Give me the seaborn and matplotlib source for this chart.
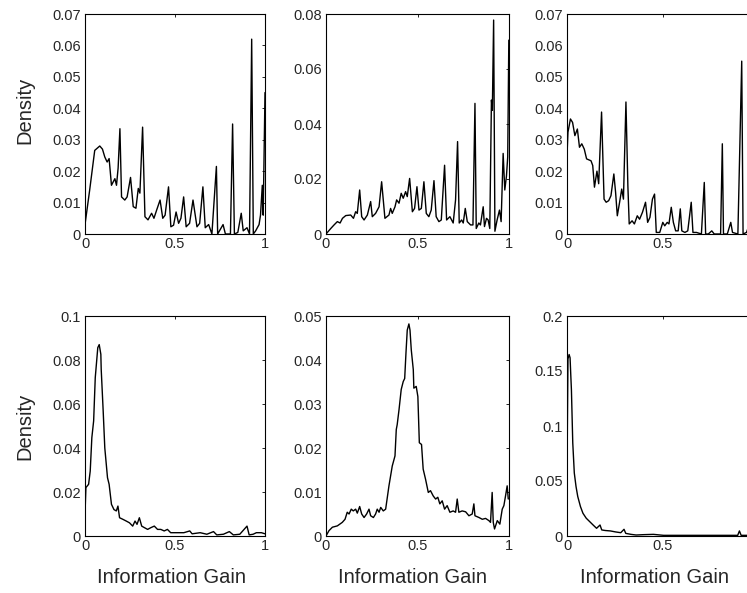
import matplotlib
matplotlib.use("Agg")
import matplotlib.pyplot as plt
import seaborn as sns

# ---- Density of information gain, six conditions (2 rows x 3 columns) ----
gain_a = [0.0, 0.026, 0.054, 0.082, 0.097, 0.11, 0.123, 0.134, 0.147, 0.166, 0.175, 0.184, 0.194,
          0.203, 0.221, 0.234, 0.253, 0.268, 0.283, 0.296, 0.305, 0.32, 0.333, 0.35, 0.37, 0.383,
          0.398, 0.417, 0.432, 0.445, 0.464, 0.477, 0.492, 0.506, 0.52, 0.533, 0.548, 0.562, 0.581,
          0.6, 0.622, 0.637, 0.655, 0.668, 0.687, 0.705, 0.73, 0.737, 0.767, 0.78, 0.808, 0.82,
          0.83, 0.849, 0.868, 0.879, 0.9, 0.914, 0.926, 0.935, 0.948, 0.967, 0.975, 0.985, 0.99, 1.0]
dens_a = [0.003, 0.014, 0.0266, 0.028, 0.027, 0.0245, 0.0229, 0.024, 0.0155, 0.0176, 0.0155, 0.021,
          0.0335, 0.0118, 0.0108, 0.0118, 0.018, 0.0087, 0.0082, 0.0145, 0.013, 0.034, 0.0055,
          0.0045, 0.0066, 0.005, 0.0076, 0.0108, 0.005, 0.006, 0.015, 0.0023, 0.0028, 0.007, 0.0034,
          0.005, 0.0118, 0.0023, 0.0034, 0.0108, 0.0023, 0.0034, 0.015, 0.002, 0.003, 0.0, 0.0215,
          0.0, 0.003, 0.0, 0.0, 0.035, 0.0, 0.0005, 0.0066, 0.001, 0.002, 0.0, 0.062, 0.0, 0.001,
          0.003, 0.006, 0.0155, 0.006, 0.045]

gain_b = [0.0, 0.026, 0.044, 0.062, 0.077, 0.09, 0.108, 0.135, 0.15, 0.162, 0.171, 0.184, 0.195,
          0.208, 0.226, 0.244, 0.253, 0.271, 0.29, 0.304, 0.322, 0.344, 0.353, 0.362, 0.377, 0.386,
          0.399, 0.411, 0.422, 0.435, 0.444, 0.457, 0.472, 0.484, 0.497, 0.508, 0.521, 0.535, 0.548,
          0.562, 0.575, 0.59, 0.602, 0.617, 0.63, 0.648, 0.659, 0.677, 0.695, 0.708, 0.719, 0.728,
          0.741, 0.75, 0.761, 0.772, 0.79, 0.803, 0.814, 0.821, 0.835, 0.844, 0.859, 0.866, 0.877,
          0.886, 0.895, 0.904, 0.909, 0.916, 0.923, 0.935, 0.948, 0.957, 0.968, 0.977, 0.986, 0.993,
          0.999]
dens_b = [0.0, 0.002, 0.0033, 0.0045, 0.004, 0.0057, 0.0067, 0.0069, 0.0057, 0.0081, 0.0075, 0.016,
          0.0063, 0.0051, 0.0069, 0.0118, 0.0063, 0.0075, 0.0099, 0.019, 0.0057, 0.0069, 0.0093,
          0.0075, 0.0099, 0.0124, 0.0112, 0.0148, 0.013, 0.0154, 0.0136, 0.0202, 0.0081, 0.0093,
          0.0172, 0.0087, 0.0093, 0.019, 0.0075, 0.0063, 0.0087, 0.0194, 0.0063, 0.0045, 0.0051,
          0.025, 0.0051, 0.0063, 0.004, 0.0124, 0.0336, 0.004, 0.0051, 0.004, 0.0093, 0.0045, 0.0033,
          0.0033, 0.0475, 0.002, 0.004, 0.0033, 0.0099, 0.0027, 0.0057, 0.0051, 0.002, 0.0487, 0.045,
          0.0778, 0.001, 0.0051, 0.0087, 0.0045, 0.0293, 0.016, 0.021, 0.028, 0.0705]

gain_c = [0.0, 0.005, 0.018, 0.029, 0.041, 0.054, 0.065, 0.077, 0.09, 0.102, 0.125, 0.134, 0.143,
          0.156, 0.165, 0.18, 0.193, 0.204, 0.217, 0.229, 0.244, 0.253, 0.262, 0.274, 0.285, 0.294,
          0.307, 0.317, 0.324, 0.339, 0.351, 0.366, 0.378, 0.393, 0.409, 0.42, 0.432, 0.445, 0.456,
          0.465, 0.483, 0.499, 0.509, 0.522, 0.531, 0.543, 0.554, 0.566, 0.579, 0.59, 0.598, 0.614,
          0.629, 0.647, 0.656, 0.674, 0.7, 0.715, 0.722, 0.736, 0.754, 0.767, 0.8, 0.809, 0.815,
          0.835, 0.853, 0.862, 0.89, 0.91, 0.917, 0.935, 0.953, 0.962, 0.98, 1.0]
dens_c = [0.025, 0.0324, 0.0366, 0.0355, 0.0313, 0.0334, 0.0276, 0.0287, 0.027, 0.0239, 0.0233,
          0.0218, 0.0149, 0.02, 0.016, 0.0388, 0.0111, 0.0101, 0.0106, 0.0122, 0.0191, 0.0133,
          0.0058, 0.0101, 0.0143, 0.0111, 0.042, 0.0154, 0.0032, 0.0042, 0.0032, 0.0058, 0.0047,
          0.0069, 0.0101, 0.0037, 0.0053, 0.0111, 0.0127, 0.0005, 0.0005, 0.0037, 0.0026, 0.0037,
          0.0032, 0.0085, 0.0037, 0.001, 0.001, 0.008, 0.001, 0.0005, 0.001, 0.0101, 0.0005, 0.0005,
          0.0, 0.0164, 0.0, 0.0, 0.001, 0.0, 0.0, 0.0287, 0.0, 0.0, 0.0037, 0.0005, 0.0, 0.055, 0.0,
          0.0005, 0.0037, 0.011, 0.004, 0.015]

gain_d = [0.0, 0.005, 0.02, 0.029, 0.038, 0.048, 0.057, 0.071, 0.079, 0.088, 0.09, 0.101, 0.11,
          0.125, 0.134, 0.147, 0.161, 0.174, 0.183, 0.192, 0.21, 0.229, 0.247, 0.265, 0.278, 0.289,
          0.302, 0.315, 0.33, 0.348, 0.366, 0.385, 0.403, 0.421, 0.44, 0.458, 0.476, 0.503, 0.531,
          0.549, 0.582, 0.595, 0.64, 0.677, 0.714, 0.732, 0.769, 0.802, 0.824, 0.86, 0.9, 0.912,
          0.934, 0.952, 0.98, 1.0]
dens_d = [0.01, 0.022, 0.0235, 0.0295, 0.0447, 0.0523, 0.072, 0.0856, 0.087, 0.0826, 0.0758, 0.0568,
          0.04, 0.0265, 0.0235, 0.0144, 0.012, 0.0114, 0.0136, 0.0083, 0.0076, 0.0068, 0.006, 0.0045,
          0.0068, 0.0053, 0.0083, 0.0045, 0.0038, 0.003, 0.0038, 0.0045, 0.003, 0.003, 0.0023,
          0.003, 0.0015, 0.0015, 0.0015, 0.0015, 0.0023, 0.001, 0.0015, 0.0008, 0.002, 0.0005,
          0.0008, 0.002, 0.0005, 0.0008, 0.0045, 0.0005, 0.0008, 0.0015, 0.0015, 0.001]

gain_e = [0.0, 0.016, 0.035, 0.062, 0.089, 0.104, 0.116, 0.126, 0.138, 0.149, 0.162, 0.171, 0.184,
          0.195, 0.208, 0.222, 0.235, 0.244, 0.259, 0.271, 0.28, 0.29, 0.299, 0.313, 0.326, 0.344,
          0.362, 0.377, 0.384, 0.389, 0.399, 0.411, 0.422, 0.43, 0.437, 0.444, 0.453, 0.459, 0.466,
          0.477, 0.48, 0.493, 0.502, 0.51, 0.522, 0.531, 0.544, 0.559, 0.571, 0.586, 0.599, 0.611,
          0.622, 0.635, 0.648, 0.662, 0.677, 0.695, 0.708, 0.717, 0.726, 0.744, 0.763, 0.781, 0.799,
          0.808, 0.814, 0.836, 0.854, 0.872, 0.89, 0.899, 0.908, 0.914, 0.921, 0.936, 0.95, 0.963,
          0.972, 0.981, 0.99, 0.996]
dens_e = [0.0, 0.0012, 0.002, 0.0023, 0.0031, 0.0038, 0.0054, 0.005, 0.0061, 0.0057, 0.0061, 0.0052,
          0.0067, 0.005, 0.0042, 0.005, 0.0061, 0.0046, 0.0042, 0.005, 0.0061, 0.0054, 0.0065,
          0.0057, 0.0061, 0.0114, 0.0159, 0.0182, 0.0242, 0.0253, 0.0287, 0.0333, 0.0351, 0.0358,
          0.0416, 0.0468, 0.0482, 0.0468, 0.0423, 0.0378, 0.0336, 0.034, 0.0317, 0.0212, 0.0208,
          0.0152, 0.0129, 0.0099, 0.0103, 0.0091, 0.0084, 0.0088, 0.0073, 0.008, 0.0061, 0.0069,
          0.0054, 0.0057, 0.0054, 0.0084, 0.0054, 0.0057, 0.0055, 0.0046, 0.005, 0.0073, 0.0046,
          0.0042, 0.0038, 0.004, 0.0035, 0.0031, 0.0099, 0.0031, 0.0016, 0.0035, 0.0027, 0.0061,
          0.0069, 0.0091, 0.0114, 0.0084]

gain_f = [0.0, 0.002, 0.005, 0.011, 0.016, 0.02, 0.023, 0.03, 0.038, 0.047, 0.056, 0.07, 0.083, 0.1,
          0.118, 0.136, 0.154, 0.172, 0.181, 0.199, 0.226, 0.253, 0.28, 0.297, 0.306, 0.333, 0.36,
          0.396, 0.45, 0.503, 0.593, 0.7, 0.79, 0.889, 0.898, 0.907, 0.97, 1.0]
dens_f = [0.048, 0.0998, 0.161, 0.165, 0.162, 0.145, 0.133, 0.0847, 0.0573, 0.045, 0.0359, 0.0268,
          0.0207, 0.0162, 0.0131, 0.01, 0.007, 0.01, 0.0055, 0.005, 0.0046, 0.0037, 0.003, 0.0061,
          0.0024, 0.0015, 0.0009, 0.0012, 0.0015, 0.0006, 0.0006, 0.0006, 0.0006, 0.0006, 0.0046,
          0.0006, 0.0006, 0.001]

panel_gain = [gain_a, gain_b, gain_c, gain_d, gain_e, gain_f]
panel_dens = [dens_a, dens_b, dens_c, dens_d, dens_e, dens_f]

y_max = [0.07, 0.08, 0.07, 0.1, 0.05, 0.2]
y_ticks = [
    [0, 0.01, 0.02, 0.03, 0.04, 0.05, 0.06, 0.07],
    [0, 0.02, 0.04, 0.06, 0.08],
    [0, 0.01, 0.02, 0.03, 0.04, 0.05, 0.06, 0.07],
    [0, 0.02, 0.04, 0.06, 0.08, 0.1],
    [0, 0.01, 0.02, 0.03, 0.04, 0.05],
    [0, 0.05, 0.1, 0.15, 0.2],
]
y_tick_labels = [
    ["0", "0.01", "0.02", "0.03", "0.04", "0.05", "0.06", "0.07"],
    ["0", "0.02", "0.04", "0.06", "0.08"],
    ["0", "0.01", "0.02", "0.03", "0.04", "0.05", "0.06", "0.07"],
    ["0", "0.02", "0.04", "0.06", "0.08", "0.1"],
    ["0", "0.01", "0.02", "0.03", "0.04", "0.05"],
    ["0", "0.05", "0.1", "0.15", "0.2"],
]
x_ticks = [0, 0.5, 1]
x_tick_labels = ["0", "0.5", "1"]
# right-hand column: its far end lies past the page edge, so its last label is left blank
x_tick_labels_edge = ["0", "0.5", ""]
x_label = "Information Gain"
y_label = "Density"

sns.set_style("white")
plt.rcParams["font.family"] = ["Liberation Sans", "DejaVu Sans"]

W, H = 747, 593
fig = plt.figure(figsize=(W / 100, H / 100), dpi=100)

# pixel boxes of the panels: (left, top, width, height); the right column runs past the page edge
col_left = [85, 326, 567]
col_width = [180, 183, 192]
col_xlabel_pos = [0.478, 0.475, 0.455]
row_top = [14, 316]
row_height = [220, 220]

for i in range(6):
    r, c = divmod(i, 3)
    left, top = col_left[c], row_top[r]
    w, h = col_width[c], row_height[r]
    ax = fig.add_axes([left / W, 1 - (top + h) / H, w / W, h / H])
    sns.lineplot(x=panel_gain[i], y=panel_dens[i], ax=ax, color="black", lw=1.0,
                 sort=False, estimator=None)
    ax.set_xlim(0, 1)
    ax.set_ylim(0, y_max[i])
    ax.set_xticks(x_ticks)
    ax.set_xticklabels(x_tick_labels_edge if c == 2 else x_tick_labels)
    ax.set_yticks(y_ticks[i])
    ax.set_yticklabels(y_tick_labels[i])
    ax.tick_params(direction="in", length=2.5, width=0.6, labelsize=10.5,
                   top=True, right=True, color="black")
    ax.tick_params(axis="x", pad=2)
    ax.tick_params(axis="y", pad=3)
    for s in ax.spines.values():
        s.set_color("black")
        s.set_linewidth(0.8)
    ax.set_xlabel("")
    ax.set_ylabel("")
    if c == 0:
        ax.set_ylabel(y_label, fontsize=14.5)
        ax.yaxis.label.set_va("center")
        ax.yaxis.set_label_coords(-0.335, 0.56 if r == 0 else 0.5)
    if r == 1:
        ax.set_xlabel(x_label, fontsize=14.5)
        ax.xaxis.label.set_va("center")
        ax.xaxis.set_label_coords(col_xlabel_pos[c], -0.19)

fig.savefig("out.png", dpi=100)
